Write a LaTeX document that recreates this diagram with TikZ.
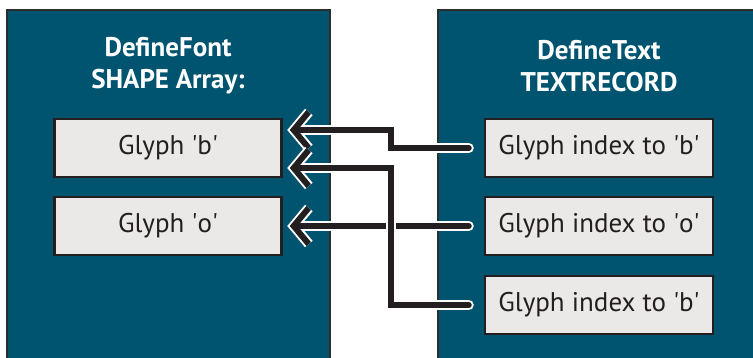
\documentclass[tikz,border=0pt]{standalone}
\usepackage{fontspec}
\setmainfont{PT Sans}
\usepackage{tikz}
\usetikzlibrary{arrows.meta,positioning,calc}
\definecolor{swfblue}{RGB}{0,84,112}
\definecolor{swfframe}{RGB}{45,45,45}
\definecolor{swfgray}{RGB}{235,233,231}
\definecolor{swfink}{RGB}{35,31,32}
\newcommand{\qt}{\textquotesingle}
\tikzstyle{panel} = [draw=swfframe, fill=swfblue, line width=2pt]
\tikzstyle{title} = [text=white, font=\fontsize{27}{32}\selectfont\bfseries, align=center]
\tikzstyle{glyphbox} = [draw=swfink, fill=swfgray, line width=2.5pt, text=swfink, font=\fontsize{27}{32}\selectfont, minimum height=58pt]
\tikzstyle{wire} = [draw=swfink, line width=6pt, line cap=round, -{Straight Barb[length=15pt,width=36pt,line width=6pt,sharp]}, preaction={draw=white, line width=10pt, line cap=round, shorten >=-2.5pt, -{Straight Barb[length=15pt,width=36pt,line width=10pt,sharp]}}]

\begin{document}
\begin{tikzpicture}[x=1pt,y=-1pt]
\useasboundingbox (0,0) rectangle (753,358);
% Two panels
\draw[panel] (7,10) rectangle (330,370);
\draw[panel] (438,10) rectangle (770,370);
\node[title] (font) at (168,66) {DefineFont\\SHAPE Array:};
\node[title] (text) at (599,66) {DefineText\\TEXTRECORD};

% Shapes and records
\node[glyphbox, minimum width=227pt] (g1) at (168,148) {Glyph \qt b\qt};
\node[glyphbox, minimum width=227pt] (g2) at (168,226) {Glyph \qt o\qt};
\node[glyphbox, minimum width=228pt] (t1) at (599,148) {Glyph index to \qt b\qt};
\node[glyphbox, minimum width=228pt] (t2) at (599,226) {Glyph index to \qt o\qt};
\node[glyphbox, minimum width=228pt] (t3) at (599,305) {Glyph index to \qt b\qt};

% Index arrows
\draw[wire] ([xshift=-15pt]t2.west) -- ([xshift=7pt]g2.east);
\draw[wire] ([xshift=-15pt]t1.west) -- ++(-78,0) |- ([xshift=7pt,yshift=18pt]g1.east);
\draw[wire] ([xshift=-15pt]t3.west) -- ++(-78,0) |- ([xshift=7pt,yshift=-20pt]g1.east);
\end{tikzpicture}
\end{document}
